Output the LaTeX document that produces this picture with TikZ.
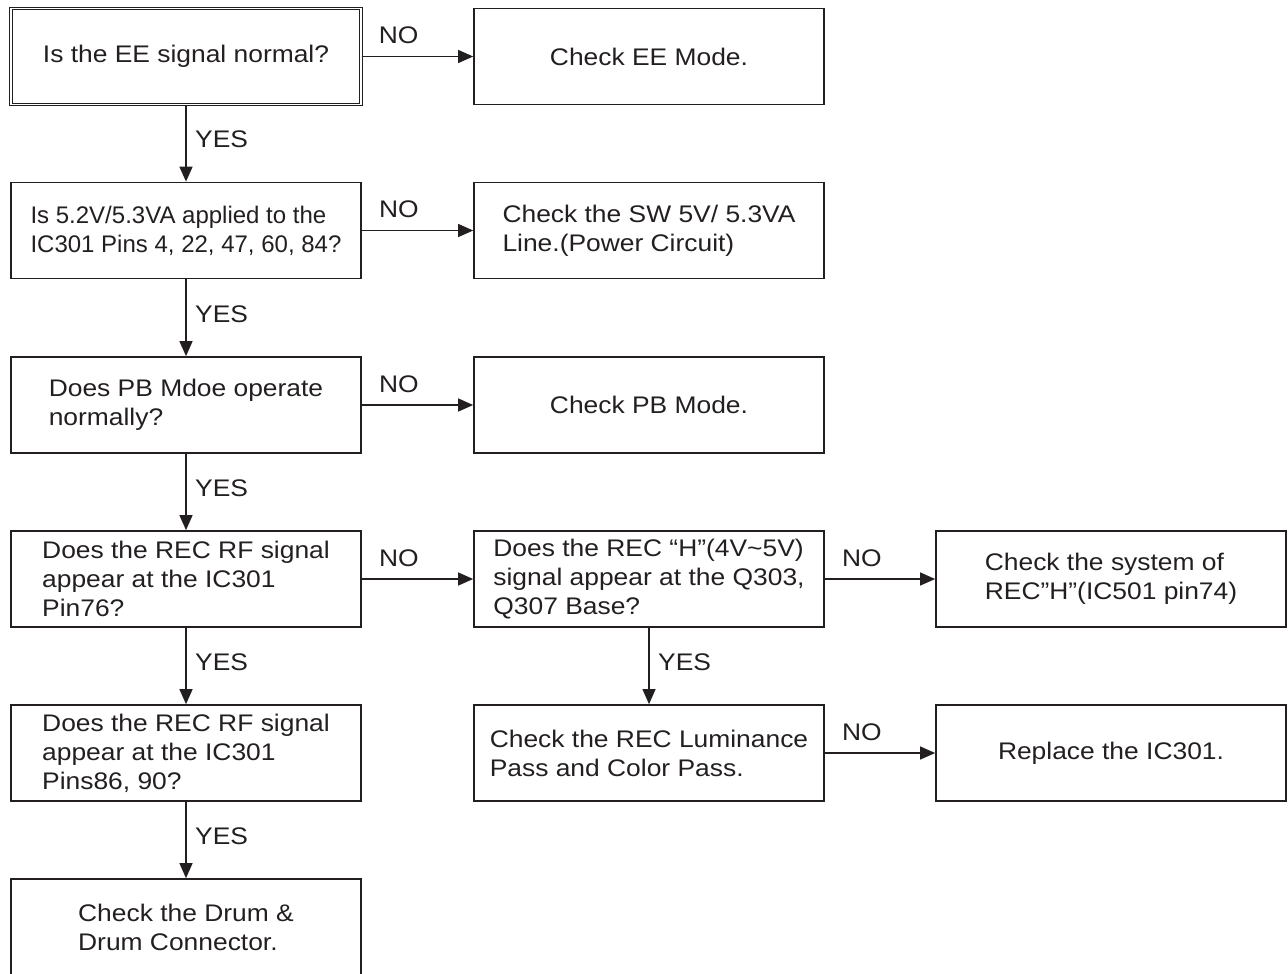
\documentclass[tikz,border=0pt]{standalone}
\usepackage{fontspec}
\setmainfont{Liberation Sans}[FakeStretch=1.1]
\newfontfamily\narrowtext{Liberation Sans}[FakeStretch=1.0]
\usetikzlibrary{arrows.meta,calc}
\definecolor{ink}{HTML}{231F20}

\begin{document}
\begin{tikzpicture}[x=1pt,y=-1pt,
  box/.style={draw=ink, line width=1.7pt, minimum width=350pt, minimum height=96pt,
    align=left, inner sep=0pt, text=ink, font=\fontsize{24}{29}\selectfont},
  startbox/.style={box, double, double distance=1.6pt, line width=1.1pt},
  flow/.style={draw=ink, line width=1.2pt, -{Triangle[length=15pt,width=13pt]}},
  nolabel/.style={text=ink, font=\fontsize{24}{26}\selectfont, inner sep=0pt, anchor=base west},
  yeslabel/.style={text=ink, font=\fontsize{24}{26}\selectfont, inner sep=0pt, anchor=west}
]
\useasboundingbox (0,0) rectangle (1288,974);

% left column: questions
\node[startbox] (q1) at (186,56.5) {Is the EE signal normal?};
\node[box] (q2) at (186,230.5) {\narrowtext Is 5.2V/5.3VA applied to the\\\narrowtext IC301 Pins 4, 22, 47, 60, 84?};
\node[box] (q3) at (186,405) {Does PB Mdoe operate\\normally?};
\node[box] (q4) at (186,579) {Does the REC RF signal\\appear at the IC301\\Pin76?};
\node[box] (q5) at (186,753) {Does the REC RF signal\\appear at the IC301\\Pins86, 90?};
\node[box] (q6) at (186,927) {Check the Drum \&\\Drum Connector.};

% middle column
\node[box] (e1) at (649,56.5) {Check EE Mode.};
\node[box] (e2) at (649,230.5) {Check the SW 5V/ 5.3VA\\Line.(Power Circuit)};
\node[box] (e3) at (649,405) {Check PB Mode.};
\node[box] (h4) at (649,579) {Does the REC “H”(4V\textasciitilde 5V)\\signal appear at the Q303,\\Q307 Base?};
\node[box] (l5) at (649,753) {Check the REC Luminance\\Pass and Color Pass.};

% right column
\node[box] (s4) at (1111,579) {Check the system of\\REC”H”(IC501 pin74)};
\node[box] (r5) at (1111,753) {Replace the IC301.};

% YES branches
\foreach \a/\b/\n in {q1/q2/y1, q2/q3/y2, q3/q4/y3, q4/q5/y4, q5/q6/y5, h4/l5/y6} {
  \draw[flow] (\a) -- (\b);
  \node[yeslabel] (\n) at ($(\a.south)!0.5!(\b.north)+(9,-4)$) {YES};
}

% NO branches
\foreach \a/\b/\n in {q1/e1/n1, q2/e2/n2, q3/e3/n3, q4/h4/n4, h4/s4/n5, l5/r5/n6} {
  \draw[flow] (\a.east) -- (\b.west);
  \node[nolabel] (\n) at ($(\a.east)+(17,-13)$) {NO};
}
\end{tikzpicture}
\end{document}
